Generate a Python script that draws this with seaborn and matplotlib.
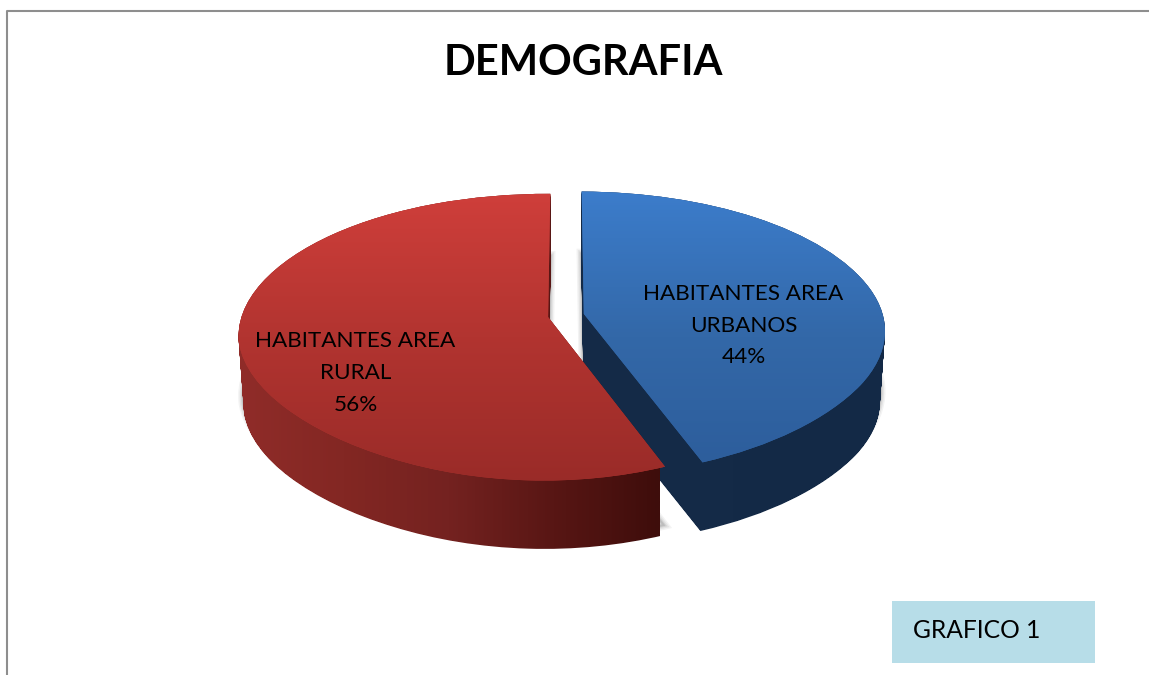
import numpy as np
import matplotlib
matplotlib.use('Agg')
import matplotlib.pyplot as plt
import seaborn as sns
from matplotlib.patches import PathPatch, Rectangle
from matplotlib.path import Path
from matplotlib.transforms import Transform

categorias = ['HABITANTES AREA\nRURAL', 'HABITANTES AREA\nURBANOS']
valores = [56, 44]
titulo = 'DEMOGRAFIA'
caixa_texto = 'GRAFICO 1'


class Perspectiva(Transform):
    # leva o disco da pizza (raio 1) para a tela, com a camada t descendo a espessura
    input_dims = 2
    output_dims = 2

    def __init__(self, t=0.0):
        super().__init__()
        self.t = t

    def transform_non_affine(self, values):
        u, v = np.asarray(values).T
        w = 1 + 0.14 * v + 0.01 * u
        esc = 1 - 0.016 * self.t
        # a frente da pizza fecha um pouco, como no grafico original
        u = u * (1 - 0.09 * np.minimum(v, 0) ** 2)
        x = 566 + esc * 303 * u / w
        y = 315.5 + 71 * self.t - esc * 140 * v / w
        return np.column_stack([x, y])


def gradiente(ax, cores, caminho, extent, horizontal, z):
    cmap = sns.blend_palette(cores, n_colors=256, as_cmap=True)
    g = np.linspace(0, 1, 256)
    g = g.reshape(1, -1) if horizontal else g.reshape(-1, 1)
    im = ax.imshow(g, cmap=cmap, extent=extent, aspect='auto', zorder=z, interpolation='bilinear')
    im.set_clip_path(caminho, transform=ax.transData)


sns.set_theme(style='white')
plt.rcParams['font.family'] = ['Lato', 'DejaVu Sans']

fig = plt.figure(figsize=(11.49, 6.75), dpi=100)
ax = fig.add_axes([0, 0, 1, 1])

fatias, _ = ax.pie(valores, startangle=90, explode=[0.06, 0.06], radius=1, center=(0, 0),
                   wedgeprops={'linewidth': 0})

camadas = np.linspace(0, 1, 72)
cores_topo = [['#d03f3b', '#b23430', '#992b28'], ['#3c7dcc', '#3368a8', '#2c5c9a']]
cores_lado = [['#902c29', '#832723', '#742220', '#581614', '#3e0d0b'], ['#152b48', '#132946']]
extent_lado = [(238, 660, 560, 180), (580, 886, 560, 180)]
z_base = [4, 2]

# sombra difusa da base das fatias
for fatia in fatias:
    base = Perspectiva(0.85).transform_path(fatia.get_path())
    for lw, a in zip([7, 5, 3, 1.5], [0.07, 0.09, 0.12, 0.16]):
        ax.add_patch(PathPatch(base, fc='none', ec='#555555', lw=lw, alpha=a, zorder=1))

for i, fatia in enumerate(fatias):
    lados = Path.make_compound_path(*[Perspectiva(t).transform_path(fatia.get_path()) for t in camadas])
    topo = Perspectiva(0).transform_path(fatia.get_path())
    z = z_base[i]
    gradiente(ax, cores_lado[i], lados, extent_lado[i], True, z)
    fatia.set_transform(Perspectiva(0) + ax.transData)
    fatia.set_facecolor(cores_topo[i][1])
    fatia.set_zorder(z + 0.5)
    gradiente(ax, cores_topo[i], topo, (238, 890, 485, 188), False, z + 0.6)

ax.set_aspect('auto')
ax.set_xlim(0, 1149)
ax.set_ylim(675, 0)
ax.axis('off')

# moldura
ax.plot([7, 7, 1149], [675, 11, 11], color='#8e8e8e', lw=1.5, zorder=1)

ax.text(583, 63, titulo, ha='center', va='center', fontsize=30, fontweight='bold', color='black', zorder=8)
pos_rotulos = [(355.5, 373), (743.5, 325.5)]
for cat, val, (x, y) in zip(categorias, valores, pos_rotulos):
    ax.text(x, y, f'{cat}\n{val}%', ha='center', va='center', fontsize=16.2, linespacing=1.72, color='black', zorder=8)

ax.add_patch(Rectangle((892, 601), 203, 62, fc='#b7dde8', ec='none', zorder=7))
ax.text(913, 631, caixa_texto, ha='left', va='center', fontsize=17.7, color='black', zorder=8)

fig.savefig('out.png', dpi=100, facecolor='white')
